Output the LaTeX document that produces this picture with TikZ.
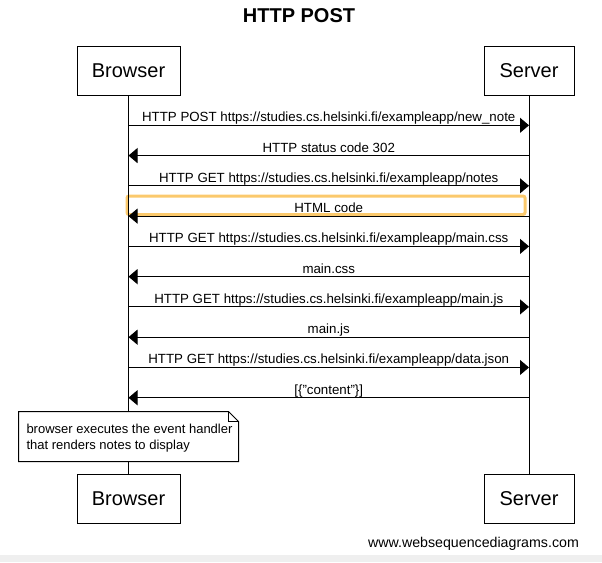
\documentclass[tikz,border=0pt]{standalone}
\usepackage{fontspec}
\setmainfont{Liberation Sans}
\usetikzlibrary{arrows.meta}
\definecolor{hlorange}{RGB}{251,201,108}
\definecolor{footgray}{RGB}{239,239,239}

\begin{document}
\begin{tikzpicture}[x=1pt,y=-1pt,line width=1pt,>={Triangle[length=9pt,width=15pt]}]
    \tikzstyle{actor}=[draw,fill=white,minimum height=49pt,font=\fontsize{20}{24}\selectfont]
    \tikzstyle{msg}=[->]
    \tikzstyle{msgtext}=[anchor=base,yshift=3.5pt,inner sep=0pt,font=\fontsize{13.3}{16}\selectfont]
    \tikzstyle{notebox}=[minimum width=219pt,minimum height=49pt,inner sep=0pt]
    \tikzstyle{notetext}=[anchor=north west,align=left,inner sep=0pt,font=\fontsize{13}{16}\selectfont]

    \useasboundingbox (0,0) rectangle (602,562);
    \fill[footgray] (0,555) rectangle (602,562);

    % title
    \node[anchor=base,font=\fontsize{20}{24}\selectfont\bfseries] (title) at (299,22) {HTTP POST};

    % highlighted reply
    \draw[hlorange,line width=3pt,rounded corners=2pt] (127,196) rectangle (525,214.5);

    % participants, top and bottom
    \node[actor,minimum width=103pt] (B-top) at (128.5,70.5) {Browser};
    \node[actor,minimum width=90pt] (S-top) at (529,70.5) {Server};
    \node[actor,minimum width=103pt] (B-bot) at (128.5,498.5) {Browser};
    \node[actor,minimum width=90pt] (S-bot) at (529,498.5) {Server};

    % lifelines
    \draw (B-top) -- (B-bot);
    \draw (S-top) -- (S-bot);

    % message points on the lifelines
    \foreach \i in {1,...,10}
    {
        \coordinate (B-\i) at (128.5,{125.3+30.27*(\i-1)});
        \coordinate (S-\i) at (529,{125.3+30.27*(\i-1)});
    }

    % requests and replies
    \draw[msg] (B-1) -- node[msgtext] {HTTP POST https://studies.cs.helsinki.fi/exampleapp/new\_note} (S-1);
    \draw[msg] (S-2) -- node[msgtext] {HTTP status code 302} (B-2);
    \draw[msg] (B-3) -- node[msgtext] {HTTP GET https://studies.cs.helsinki.fi/exampleapp/notes} (S-3);
    \draw[msg] (S-4) -- node[msgtext] {HTML code} (B-4);
    \draw[msg] (B-5) -- node[msgtext] {HTTP GET https://studies.cs.helsinki.fi/exampleapp/main.css} (S-5);
    \draw[msg] (S-6) -- node[msgtext] {main.css} (B-6);
    \draw[msg] (B-7) -- node[msgtext] {HTTP GET https://studies.cs.helsinki.fi/exampleapp/main.js} (S-7);
    \draw[msg] (S-8) -- node[msgtext] {main.js} (B-8);
    \draw[msg] (B-9) -- node[msgtext] {HTTP GET https://studies.cs.helsinki.fi/exampleapp/data.json} (S-9);
    \draw[msg] (S-10) -- node[msgtext] {[\{"content"\}]} (B-10);

    % note over the browser
    \node[notebox] (note) at (128.5,436.5) {};
    \draw[fill=white] (note.north west) -- ([xshift=-10pt]note.north east) -- ([yshift=-10pt]note.north east)
        -- (note.south east) -- (note.south west) -- cycle;
    \draw ([xshift=-10pt]note.north east) |- ([yshift=-10pt]note.north east);
    \node[notetext] (note-text) at (26,423.8) {browser executes the event handler\\that renders notes to display};

    % footer
    \node[anchor=base,font=\fontsize{14.2}{17}\selectfont] (footer) at (473.5,547.5) {www.websequencediagrams.com};
\end{tikzpicture}
\end{document}
